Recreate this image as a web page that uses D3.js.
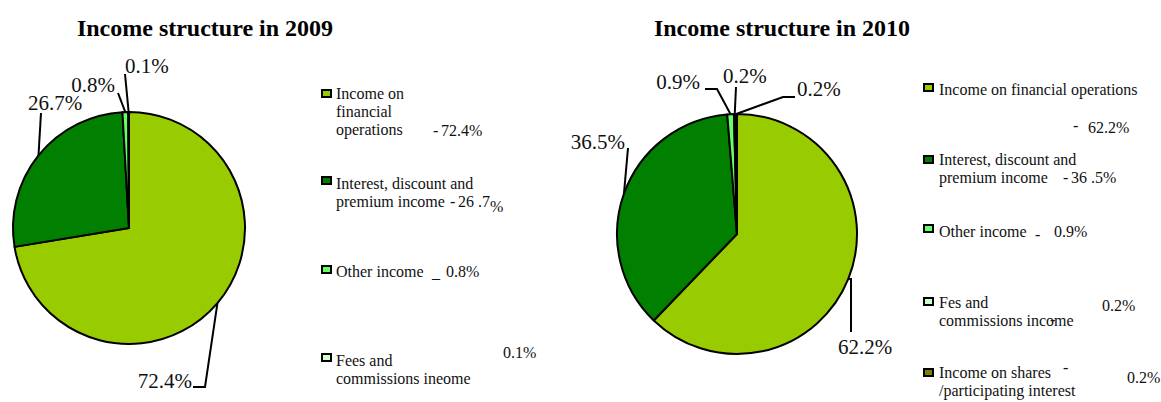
<!DOCTYPE html>
<html>
<head>
<meta charset="utf-8">
<script src="https://cdn.jsdelivr.net/npm/d3@7"></script>
<style>
  html, body { margin: 0; padding: 0; background: #fff; }
  svg { display: block; font-family: "Liberation Serif", "Times New Roman", serif; }
</style>
</head>
<body>
<svg id="chart" width="1161" height="402"></svg>
<script>
// ---- data ----
const categories2009 = ["Income on financial operations", "Interest, discount and premium income", "Other income", "Fees and commissions income"];
const values2009 = [72.4, 26.7, 0.8, 0.1];
const legendText2009 = [["Income on", "financial", "operations"], ["Interest, discount and", "premium income"], ["Other income"], ["Fees and", "commissions ineome"]];

const categories2010 = ["Income on financial operations", "Interest, discount and premium income", "Other income", "Fes and commissions income", "Income on shares /participating interest"];
const values2010 = [62.2, 36.5, 0.9, 0.2, 0.2];
const legendText2010 = [["Income on financial operations"], ["Interest, discount and", "premium income"], ["Other income"], ["Fes and", "commissions income"], ["Income on shares", "/participating interest"]];

const titles = ["Income structure in 2009", "Income structure in 2010"];

// ---- styling ----
const palette = ["#99cc00", "#007f00", "#66ff66", "#ccffcc", "#808000"];
const fmt = d3.format(".1f");

const svg = d3.select("#chart");

// ---- layout of the two panels ----
const panels = [
  {
    title: titles[0], titleX: 205, titleY: 36,
    values: values2009, legend: legendText2009,
    cx: 129, cy: 228, r: 116,
    // leader routes: points after the slice anchor, and label placement
    leaders: [
      { pts: [[205, 387], [193, 387]], tx: 192, ty: 388, anchor: "end" },
      { pts: [[41, 113]], tx: 28, ty: 110, anchor: "start" },
      { pts: [[118, 93]], tx: 115, ty: 92, anchor: "end" },
      { pts: [[125, 74]], tx: 125, ty: 73, anchor: "start" }
    ],
    keyX: 321, textX: 336,
    entries: [
      { keyY: 89,  baseY: 99 },
      { keyY: 176, baseY: 189 },
      { keyY: 265, baseY: 277 },
      { keyY: 353, baseY: 366 }
    ],
    valueTexts: [
      { parts: [{ t: "- ", x: 433, y: 136 }, { v: 0, x: 441, y: 136, gap: false }] },
      { parts: [{ t: "- ", x: 450, y: 207 }, { v: 1, x: 458, y: 207, gap: true, pctDy: 5 }] },
      { parts: [{ t: "_", x: 432, y: 278 }, { v: 2, x: 446, y: 277, gap: false }] },
      { parts: [{ v: 3, x: 503, y: 358, gap: false }] }
    ]
  },
  {
    title: titles[1], titleX: 782, titleY: 36,
    values: values2010, legend: legendText2010,
    cx: 737, cy: 234, r: 120,
    leaders: [
      { pts: [[851, 279], [851, 332]], tx: 838, ty: 354, anchor: "start" },
      { pts: [[628, 148]], tx: 625, ty: 149, anchor: "end" },
      { pts: [[717, 89], [705, 89]], tx: 700, ty: 89, anchor: "end" },
      { pts: [[736, 87]], tx: 723, ty: 83, anchor: "start" },
      { pts: [[783, 97], [795, 97]], tx: 797, ty: 96, anchor: "start" }
    ],
    keyX: 923, textX: 939,
    entries: [
      { keyY: 83,  baseY: 95 },
      { keyY: 155, baseY: 165 },
      { keyY: 224, baseY: 237 },
      { keyY: 297, baseY: 308 },
      { keyY: 368, baseY: 378 }
    ],
    valueTexts: [
      { parts: [{ t: "-", x: 1073, y: 131 }, { v: 0, x: 1088, y: 133, gap: false }] },
      { parts: [{ t: "- ", x: 1063, y: 183 }, { v: 1, x: 1071, y: 183, gap: true }] },
      { parts: [{ t: "-", x: 1035, y: 240 }, { v: 2, x: 1054, y: 237, gap: false }] },
      { parts: [{ t: "-", x: 1050, y: 325 }, { v: 3, x: 1102, y: 311, gap: false }] },
      { parts: [{ t: "-", x: 1063, y: 373 }, { v: 4, x: 1127, y: 383, gap: false }] }
    ]
  }
];

panels.forEach(p => {
  const g = svg.append("g");

  // title
  g.append("text")
    .attr("x", p.titleX).attr("y", p.titleY)
    .attr("text-anchor", "middle")
    .attr("font-size", 24).attr("font-weight", "bold")
    .attr("fill", "#000")
    .text(p.title);

  // pie
  const pie = d3.pie().sort(null).value(d => d)(p.values);
  const arc = d3.arc().innerRadius(0).outerRadius(p.r);
  const pg = g.append("g").attr("transform", `translate(${p.cx},${p.cy})`);
  pg.selectAll("path.slice")
    .data(pie)
    .join("path")
    .attr("class", "slice")
    .attr("d", arc)
    .attr("fill", (d, i) => palette[i])
    .attr("stroke", "#000")
    .attr("stroke-width", 2)
    .attr("stroke-linejoin", "round");

  // leader lines and value labels
  pie.forEach((d, i) => {
    const mid = (d.startAngle + d.endAngle) / 2;
    const ax = p.cx + p.r * Math.sin(mid);
    const ay = p.cy - p.r * Math.cos(mid);
    const L = p.leaders[i];
    const line = d3.line();
    g.append("path")
      .attr("d", line([[ax, ay], ...L.pts]))
      .attr("fill", "none")
      .attr("stroke", "#000")
      .attr("stroke-width", 2);
    g.append("text")
      .attr("x", L.tx).attr("y", L.ty)
      .attr("text-anchor", L.anchor)
      .attr("font-size", 21)
      .attr("fill", "#111")
      .text(fmt(d.data) + "%");
  });

  // legend
  p.legend.forEach((lines, i) => {
    const e = p.entries[i];
    g.append("rect")
      .attr("x", p.keyX + 1).attr("y", e.keyY + 1)
      .attr("width", 9).attr("height", 7)
      .attr("fill", palette[i])
      .attr("stroke", "#000")
      .attr("stroke-width", 2);
    lines.forEach((ln, j) => {
      g.append("text")
        .attr("x", p.textX).attr("y", e.baseY + j * 18)
        .attr("font-size", 16)
        .attr("fill", "#111")
        .text(ln);
    });
    p.valueTexts[i].parts.forEach(part => {
      if (part.t !== undefined) {
        g.append("text")
          .attr("x", part.x).attr("y", part.y)
          .attr("font-size", 16).attr("fill", "#111")
          .attr("xml:space", "preserve")
          .text(part.t);
      } else {
        const s = fmt(p.values[part.v]);
        const t = g.append("text")
          .attr("x", part.x).attr("y", part.y)
          .attr("font-size", 16).attr("fill", "#111");
        if (part.gap) {
          const [ip, fp] = s.split(".");
          t.append("tspan").text(ip);
          t.append("tspan").attr("dx", 4).text("." + fp);
          t.append("tspan").attr("dy", part.pctDy || 0).text("%");
        } else {
          t.text(s + "%");
        }
      }
    });
  });
});
</script>
</body>
</html>
